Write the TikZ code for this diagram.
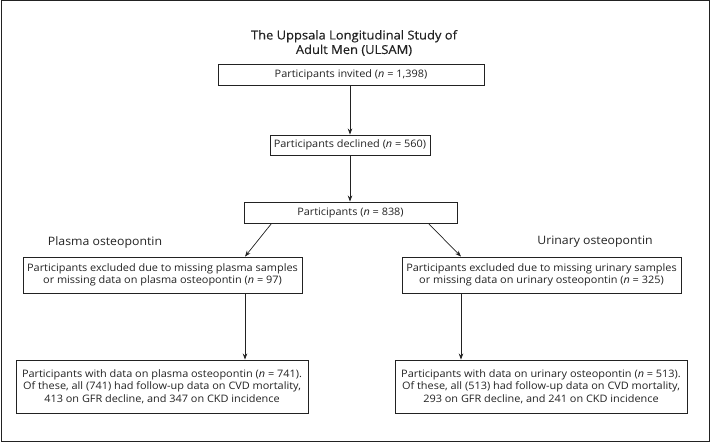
\documentclass[tikz,border=0pt]{standalone}
\usepackage{fontspec}
\setmainfont[FakeStretch=1.06]{Open Sans}
\newfontfamily\titlefont[FakeBold=0.4,FakeStretch=1.06]{Open Sans}
\usetikzlibrary{arrows.meta,calc}
\definecolor{ink}{HTML}{222222}
\tikzset{
  box/.style={draw=ink, line width=0.9pt, align=center, inner sep=0pt, font=\fontsize{10.3}{12.4}\selectfont, text=ink},
  arr/.style={draw=ink, line width=0.7pt, -{Stealth[length=6pt,width=4.5pt]}},
  lbl/.style={font=\fontsize{11.6}{14}\selectfont, text=ink, inner sep=0pt}
}
\begin{document}
\begin{tikzpicture}[x=1pt,y=-1pt]
\useasboundingbox (0,0) rectangle (710,443);
\draw[ink, line width=1pt] (1,1) rectangle (709,442);
\node[align=center, inner sep=0pt, text=ink, font=\titlefont\fontsize{12.2}{14.5}\selectfont] (title) at (354,43) {The Uppsala Longitudinal Study of\\Adult Men (ULSAM)};
\node[box, minimum width=266pt, minimum height=21pt] (inv) at (351,74.5) {Participants invited (\textit{n} = 1,398)};
\node[box, minimum width=160pt, minimum height=20pt] (dec) at (350,145) {Participants declined (\textit{n} = 560)};
\node[box, minimum width=213pt, minimum height=21pt] (all) at (350.5,212.5) {Participants (\textit{n} = 838)};
\node[lbl] (pl) at (105,242) {Plasma osteopontin};
\node[lbl] (ur) at (595,242) {Urinary osteopontin};
\node[box, minimum width=279pt, minimum height=36pt] (lex) at (162.5,275) {Participants excluded due to missing plasma samples\\or missing data on plasma osteopontin (\textit{n} = 97)};
\node[box, minimum width=279pt, minimum height=36pt] (rex) at (541.5,275) {Participants excluded due to missing urinary samples\\or missing data on urinary osteopontin (\textit{n} = 325)};
\node[box, minimum width=292pt, minimum height=53pt] (lbot) at (162,386.5) {Participants with data on plasma osteopontin (\textit{n} = 741).\\Of these, all (741) had follow-up data on CVD mortality,\\413 on GFR decline, and 347 on CKD incidence};
\node[box, minimum width=292pt, minimum height=53pt] (rbot) at (541,386.5) {Participants with data on urinary osteopontin (\textit{n} = 513).\\Of these, all (513) had follow-up data on CVD mortality,\\293 on GFR decline, and 241 on CKD incidence};
\coordinate (cx) at (350,0);
\coordinate (aL) at (245,0);
\coordinate (aR) at (461,0);
\draw[arr] (cx |- inv.south) -- (cx |- dec.north);
\draw[arr] (cx |- dec.south) -- (cx |- all.north);
\draw[arr] ($(all.south west)+(28,0)$) -- (aL |- lex.north);
\draw[arr] ($(all.south east)+(-29,0)$) -- (aR |- rex.north);
\draw[arr] (aL |- lex.south) -- (aL |- lbot.north);
\draw[arr] (aR |- rex.south) -- (aR |- rbot.north);
\end{tikzpicture}
\end{document}
